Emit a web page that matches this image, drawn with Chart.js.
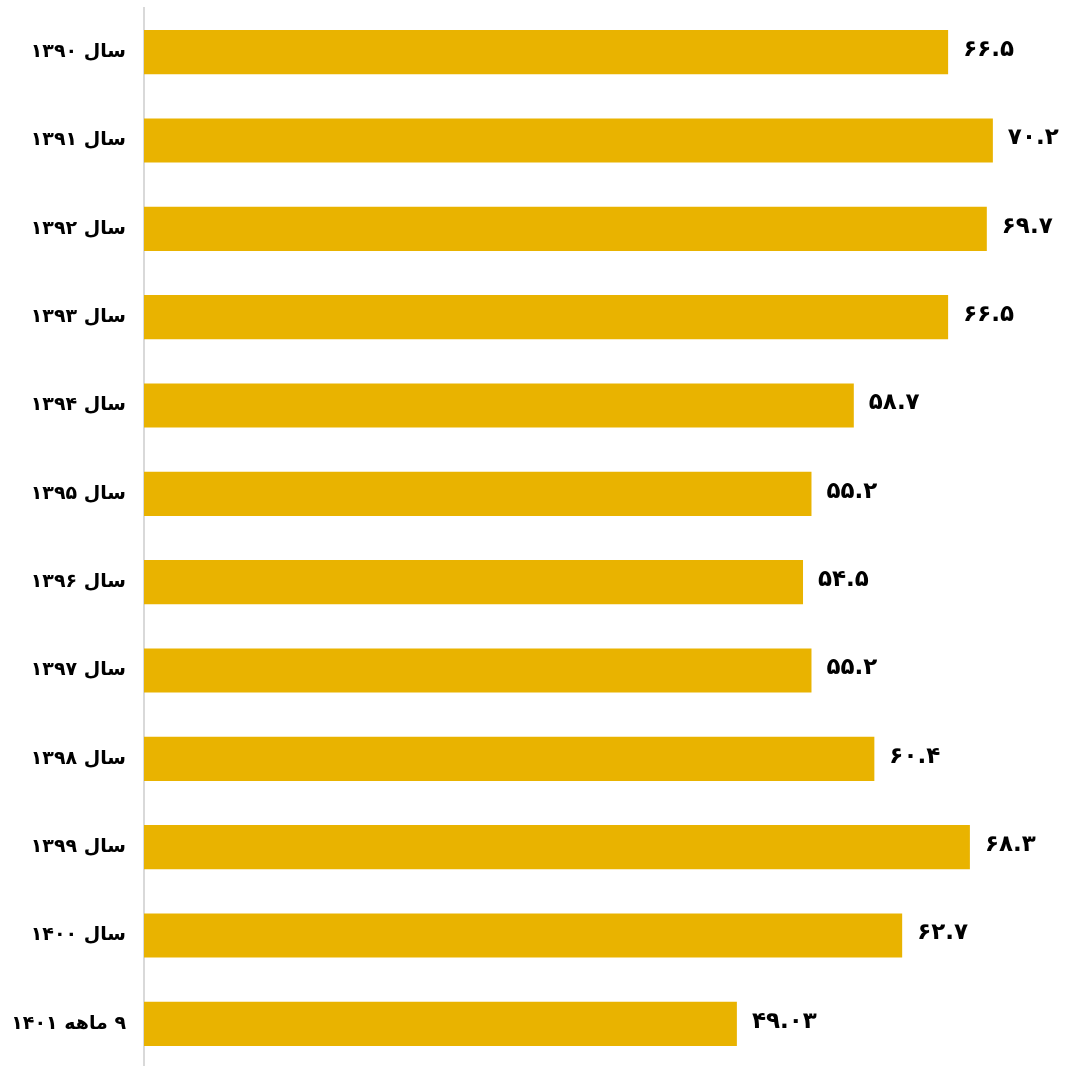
<!DOCTYPE html>
<html>
<head>
<meta charset="utf-8">
<script src="https://cdn.jsdelivr.net/npm/chart.js@4/dist/chart.umd.min.js"></script>
<style>
  html,body{margin:0;padding:0;background:#fff;overflow:hidden}
  #wrap{width:1069px;height:1068px;position:relative}
</style>
</head>
<body>
<div id="wrap"><canvas id="chart-bar" dir="rtl"></canvas></div>
<script>
// ─── DATOS ────────────────────────────────────────────────────────────────────
const categorias = ['سال ۱۳۹۰','سال ۱۳۹۱','سال ۱۳۹۲','سال ۱۳۹۳','سال ۱۳۹۴','سال ۱۳۹۵',
                    'سال ۱۳۹۶','سال ۱۳۹۷','سال ۱۳۹۸','سال ۱۳۹۹','سال ۱۴۰۰','۹ ماهه ۱۴۰۱'];
const valores = [66.5, 70.2, 69.7, 66.5, 58.7, 55.2, 54.5, 55.2, 60.4, 68.3, 62.7, 49.03];

const FONT = '"DejaVu Sans", sans-serif';
const faDigits = s => String(s).replace(/\d/g, d => '۰۱۲۳۴۵۶۷۸۹'[d]);

// etiquetas de valor al final de cada barra
const valueLabels = {
  id:'valueLabels',
  afterDatasetsDraw(chart){
    const ctx = chart.ctx;
    const meta = chart.getDatasetMeta(0);
    ctx.save();
    ctx.font = 'bold 23px '+FONT;
    ctx.fillStyle = '#000';
    ctx.textAlign = 'left';
    ctx.textBaseline = 'middle';
    meta.data.forEach((bar,i)=>{
      ctx.fillText(faDigits(valores[i]), bar.x+15, bar.y-2);
    });
    ctx.restore();
  }
};

new Chart(document.getElementById('chart-bar'), {
  type:'bar',
  data:{labels:categorias, datasets:[{data:valores, backgroundColor:'#E9B300', borderWidth:0,
        categoryPercentage:0.5, barPercentage:1}]},
  options:{
    indexAxis:'y', responsive:true, maintainAspectRatio:false, animation:false,
    layout:{padding:{top:8, right:6, bottom:0, left:0}},
    plugins:{legend:{display:false}, tooltip:{enabled:false}},
    scales:{
      x:{display:false, min:0, max:76},
      y:{
        afterFit: s => { s.width = 144; s.paddingTop = 0; s.paddingBottom = 0; },
        grid:{display:false, drawTicks:false},
        border:{display:true, color:'#d9d9d9', width:2},
        ticks:{padding:18, color:'#000', font:{family:FONT, size:19, weight:'bold'}}
      }
    }
  },
  plugins:[valueLabels]
});
</script>
</body>
</html>
